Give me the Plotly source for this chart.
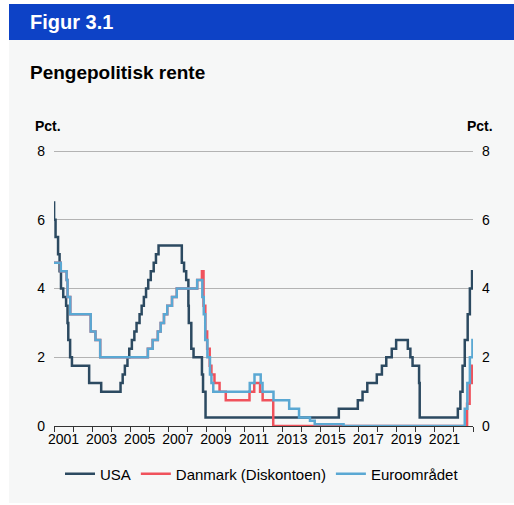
import plotly.graph_objects as go

# ---------------- data ----------------
usa_dates = ["2001-01-01","2001-01-03","2001-01-31","2001-03-20","2001-04-18","2001-05-15","2001-06-27",
             "2001-08-21","2001-09-17","2001-10-02","2001-11-06","2001-12-11","2002-11-06","2003-06-25",
             "2004-06-30","2004-08-10","2004-09-21","2004-11-10","2004-12-14","2005-02-02","2005-03-22",
             "2005-05-03","2005-06-30","2005-08-09","2005-09-20","2005-11-01","2005-12-13","2006-01-31",
             "2006-03-28","2006-05-10","2006-06-29","2007-09-18","2007-10-31","2007-12-11","2008-01-22",
             "2008-01-30","2008-03-18","2008-04-30","2008-10-08","2008-10-29","2008-12-16","2015-12-16",
             "2016-12-14","2017-03-15","2017-06-14","2017-12-13","2018-03-21","2018-06-13","2018-09-26",
             "2018-12-19","2019-07-31","2019-09-18","2019-10-30","2020-03-03","2020-03-15","2022-03-16",
             "2022-05-04","2022-06-15","2022-07-27","2022-09-21","2022-11-02","2022-12-14","2022-12-31"]
usa_rates = [6.5,6.0,5.5,5.0,4.5,4.0,3.75,
             3.5,3.0,2.5,2.0,1.75,1.25,1.0,
             1.25,1.5,1.75,2.0,2.25,2.5,2.75,
             3.0,3.25,3.5,3.75,4.0,4.25,4.5,
             4.75,5.0,5.25,4.75,4.5,4.25,3.5,
             3.0,2.25,2.0,1.5,1.0,0.25,0.5,
             0.75,1.0,1.25,1.5,1.75,2.0,2.25,
             2.5,2.25,2.0,1.75,1.25,0.25,0.5,
             1.0,1.75,2.5,3.25,4.0,4.5,4.5]

dk_dates = ["2001-01-01","2001-05-11","2001-08-31","2001-09-18","2001-11-09","2002-12-06","2003-03-07",
            "2003-06-06","2005-12-06","2006-03-08","2006-06-15","2006-08-09","2006-10-11","2006-12-13",
            "2007-03-14","2007-06-13","2008-07-09","2008-10-08","2008-11-07","2008-12-12","2009-01-16",
            "2009-03-06","2009-04-08","2009-06-05","2009-09-11","2010-01-08","2011-04-08","2011-07-08",
            "2011-10-28","2011-12-16","2012-07-06","2022-09-09","2022-10-28","2022-12-16","2022-12-31"]
dk_rates = [4.75,4.5,4.25,3.75,3.25,2.75,2.5,
            2.0,2.25,2.5,2.75,3.0,3.25,3.5,
            3.75,4.0,4.25,4.5,3.5,2.75,2.25,
            1.75,1.5,1.25,1.0,0.75,1.0,1.25,
            1.0,0.75,0.0,0.65,1.25,1.75,1.75]

euro_dates = ["2001-01-01","2001-05-11","2001-08-31","2001-09-18","2001-11-09","2002-12-06","2003-03-07",
              "2003-06-06","2005-12-06","2006-03-08","2006-06-15","2006-08-09","2006-10-11","2006-12-13",
              "2007-03-14","2007-06-13","2008-07-09","2008-10-15","2008-11-12","2008-12-10","2009-01-21",
              "2009-03-11","2009-04-08","2009-05-13","2011-04-13","2011-07-13","2011-11-09","2011-12-14",
              "2012-07-11","2013-05-08","2013-11-13","2014-06-11","2014-09-10","2016-03-16","2022-07-27",
              "2022-09-14","2022-11-02","2022-12-21","2022-12-31"]
euro_rates = [4.75,4.5,4.25,3.75,3.25,2.75,2.5,
              2.0,2.25,2.5,2.75,3.0,3.25,3.5,
              3.75,4.0,4.25,3.75,3.25,2.5,2.0,
              1.5,1.25,1.0,1.25,1.5,1.25,1.0,
              0.75,0.5,0.25,0.15,0.05,0.0,0.5,
              1.25,2.0,2.5,2.5]

series_names = ["USA", "Danmark (Diskontoen)", "Euroområdet"]
year_labels = [str(y) for y in range(2001, 2022, 2)]
label_positions = [f"{y}-07-02" for y in range(2001, 2022, 2)]
year_boundaries = [f"{y}-01-01" for y in range(2001, 2024)]
y_ticks = [0, 2, 4, 6, 8]

# ---------------- styling ----------------
FONT = "Arial, 'Liberation Sans', sans-serif"
colors = ["#2c4a61", "#f0525c", "#5aa8d3"]

L, R, T, B = 54, 41, 150, 79
W, H = 514, 505
pw, ph = W - L - R, H - T - B
def px(x): return (x - L) / pw
def py(y): return (H - B - y) / ph

fig = go.Figure()
for name, d, v, c in zip(series_names, [usa_dates, dk_dates, euro_dates],
                         [usa_rates, dk_rates, euro_rates], colors):
    fig.add_trace(go.Scatter(x=d, y=v, name=name, mode="lines",
                             line=dict(color=c, width=2.5, shape="hv")))

# right axis helper trace (invisible)
fig.add_trace(go.Scatter(x=[usa_dates[0]], y=[0], yaxis="y2", showlegend=False,
                         mode="markers", marker=dict(opacity=0), hoverinfo="skip"))

Y_RANGE = [0, 8.03]

fig.update_layout(
    width=W, height=H,
    margin=dict(l=L, r=R, t=T, b=B),
    paper_bgcolor="white",
    plot_bgcolor="rgba(0,0,0,0)",
    font=dict(family=FONT, size=14, color="#000000"),
    showlegend=True,
    legend=dict(orientation="h", x=px(262), xanchor="center", y=py(474), yanchor="middle",
                font=dict(size=15, family=FONT), bgcolor="rgba(0,0,0,0)", itemwidth=30),
    xaxis=dict(
        type="date",
        range=["2001-01-01", "2023-01-01"],
        tickmode="array", tickvals=label_positions, ticktext=year_labels,
        ticks="", showgrid=False, zeroline=False,
        showline=True, linecolor="#333333", linewidth=1,
        tickfont=dict(size=14),
        minor=dict(tickmode="array", tickvals=year_boundaries, ticks="outside",
                   ticklen=5, tickcolor="#333333", tickwidth=1, showgrid=False),
    ),
    yaxis=dict(
        range=Y_RANGE, tickvals=y_ticks, showgrid=True, gridcolor="#b3b3b3", gridwidth=1,
        zeroline=False, showline=False, ticks="", tickfont=dict(size=14),
        ticklabelstandoff=8,
    ),
    yaxis2=dict(
        range=Y_RANGE, tickvals=y_ticks, overlaying="y", side="right", showgrid=False,
        zeroline=False, showline=False, ticks="", tickfont=dict(size=14),
        ticklabelstandoff=8,
    ),
    shapes=[
        dict(type="rect", xref="paper", yref="paper", x0=px(9), x1=px(520), y0=py(503), y1=py(40),
             fillcolor="#f6f7f7", line=dict(width=0), layer="below"),
        dict(type="rect", xref="paper", yref="paper", x0=px(9), x1=px(520), y0=py(40), y1=py(4),
             fillcolor="#0d42c6", line=dict(width=0), layer="below"),
    ],
    annotations=[
        dict(text="<b>Figur 3.1</b>", xref="paper", yref="paper", x=px(28), y=py(22),
             xanchor="left", yanchor="middle", showarrow=False,
             font=dict(size=20, color="white", family=FONT)),
        dict(text="<b>Pengepolitisk rente</b>", xref="paper", yref="paper", x=px(28), y=py(72),
             xanchor="left", yanchor="middle", showarrow=False,
             font=dict(size=19, color="black", family=FONT)),
        dict(text="<b>Pct.</b>", xref="paper", yref="paper", x=px(33), y=py(126),
             xanchor="left", yanchor="middle", showarrow=False,
             font=dict(size=14, color="black", family=FONT)),
        dict(text="<b>Pct.</b>", xref="paper", yref="paper", x=px(495), y=py(126),
             xanchor="right", yanchor="middle", showarrow=False,
             font=dict(size=14, color="black", family=FONT)),
    ],
)

fig.write_html("out.html")
